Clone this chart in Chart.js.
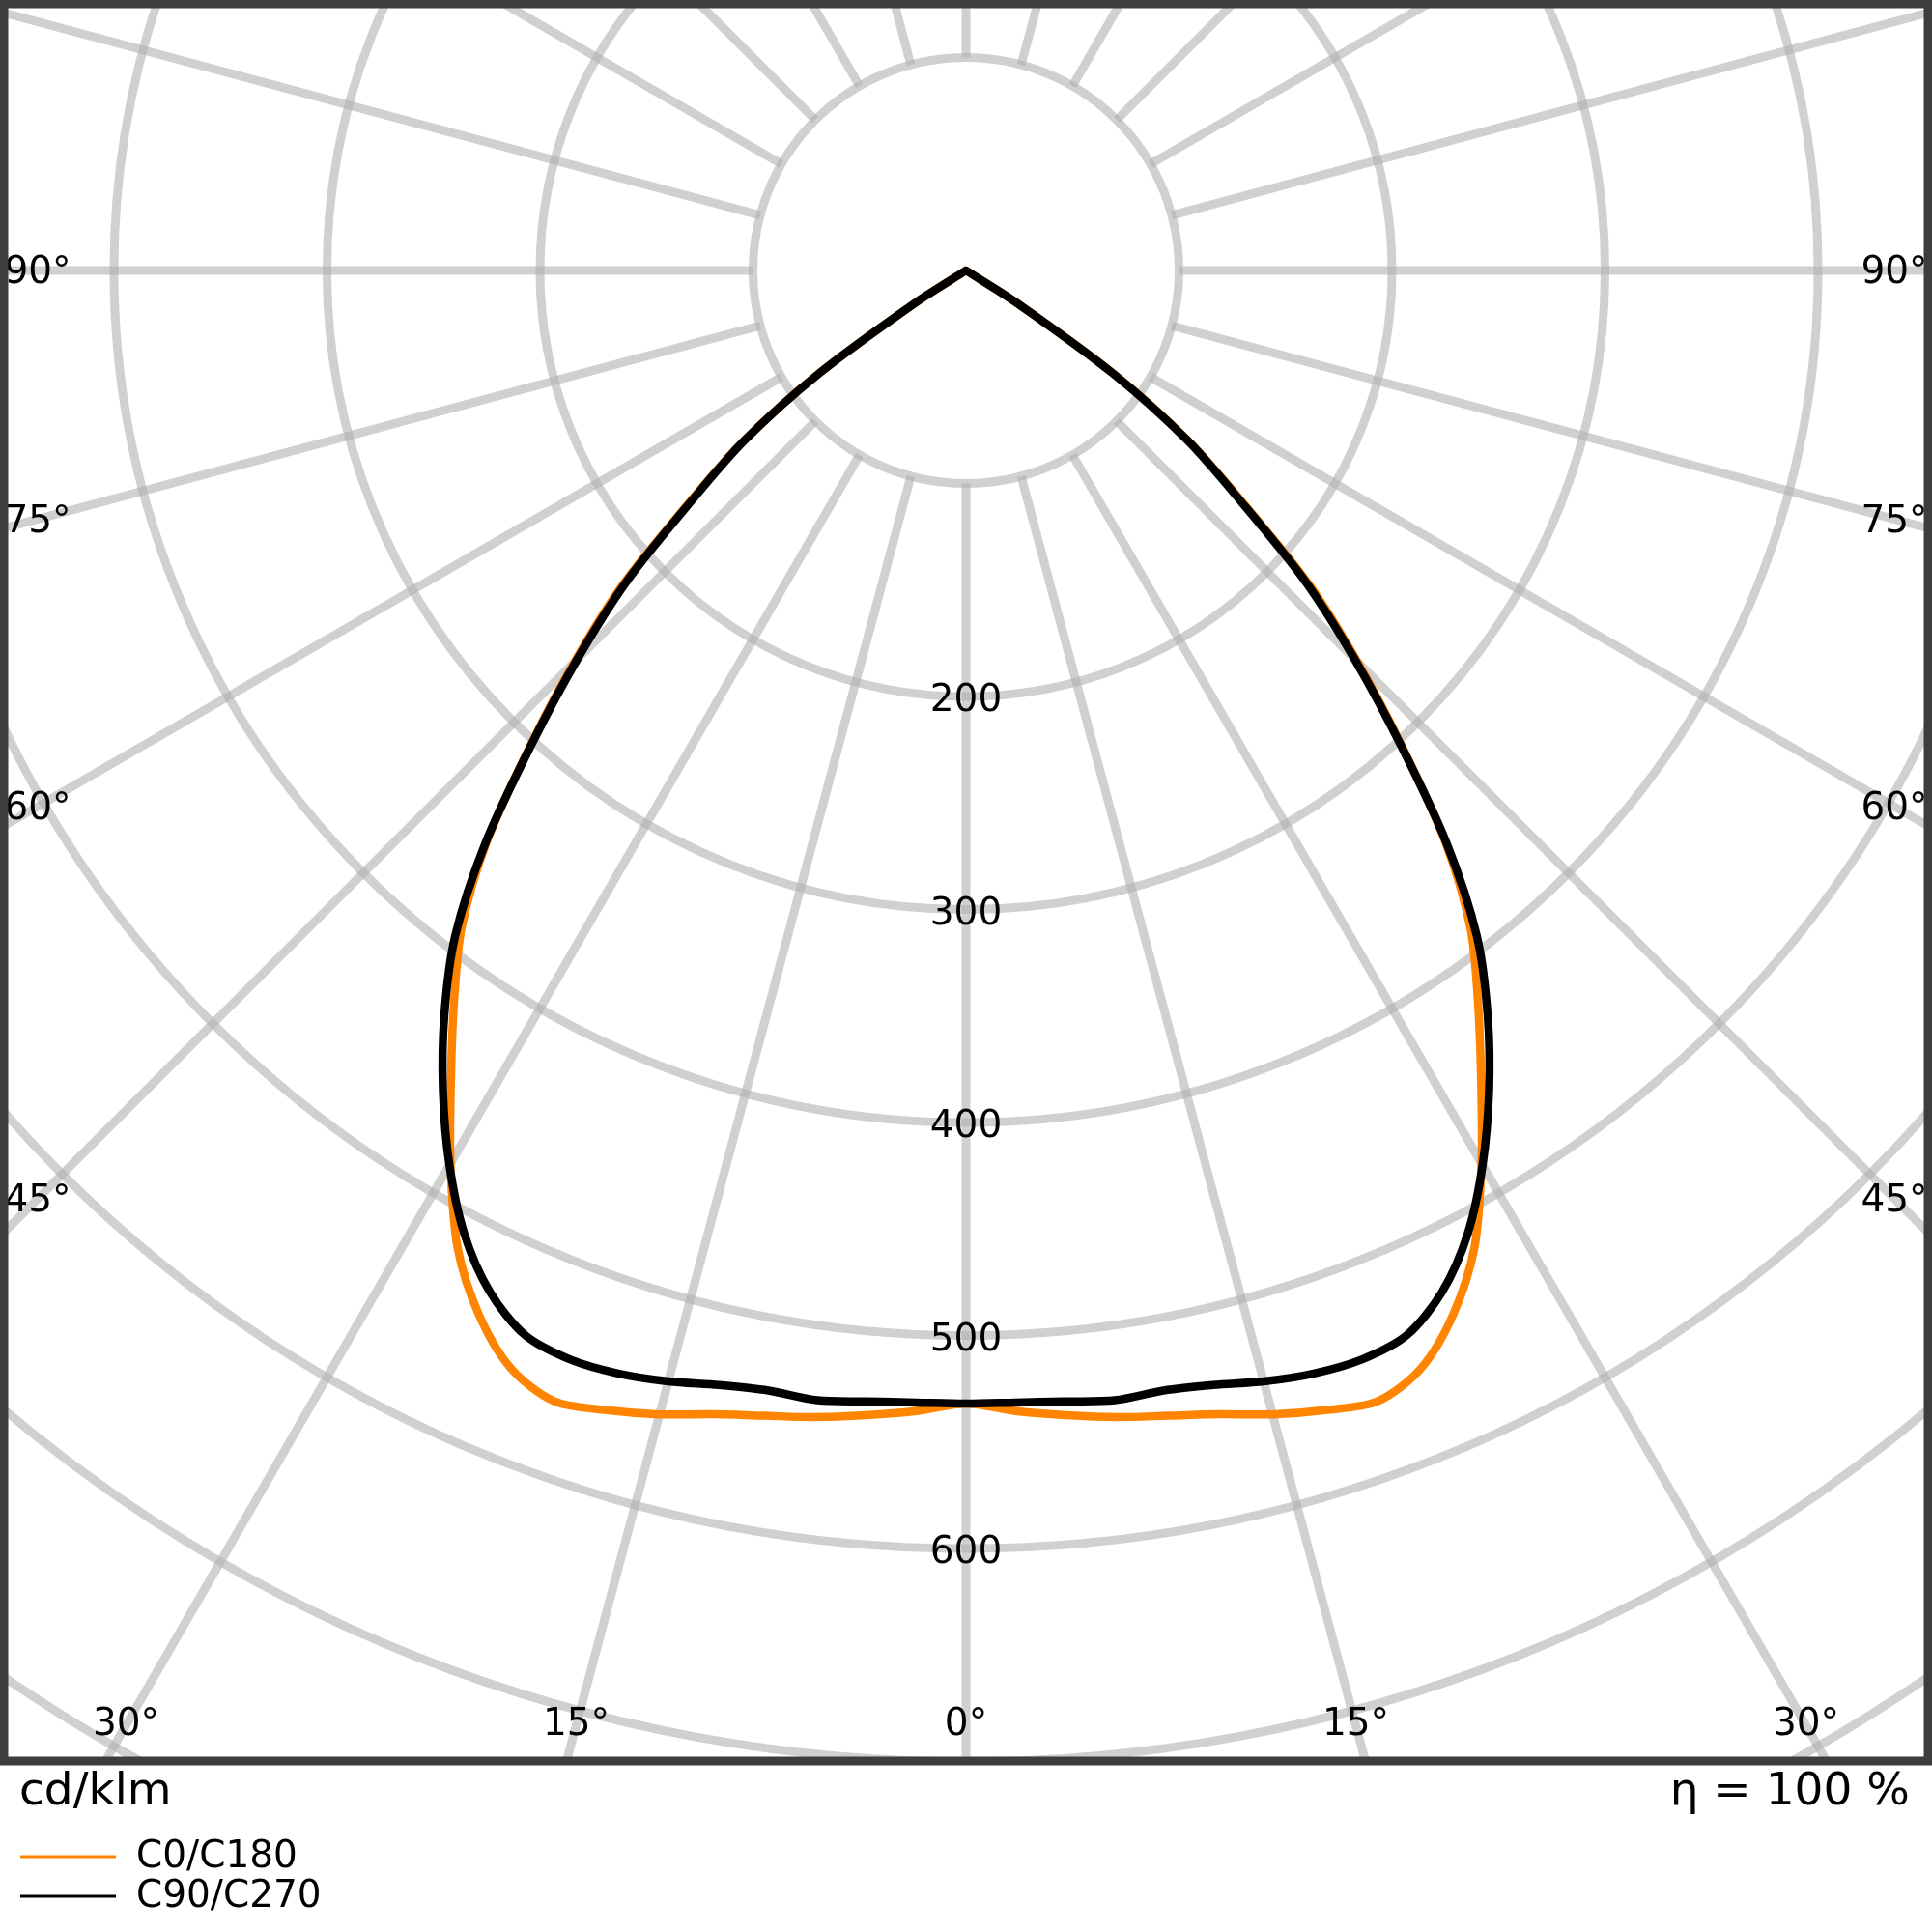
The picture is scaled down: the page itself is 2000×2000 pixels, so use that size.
<!DOCTYPE html>
<html>
<head>
<meta charset="utf-8">
<script src="https://cdn.jsdelivr.net/npm/chart.js@4.4.1/dist/chart.umd.min.js"></script>
<style>
  html, body { margin: 0; padding: 0; background: #fff; }
  canvas { display: block; }
</style>
</head>
<body>
<canvas id="ldc" width="2000" height="2000"></canvas>
<script>
// gamma angles (deg from nadir), same for both half planes
const angleDeg = [0, 2.5, 5, 7.5, 10, 12.5, 15, 17.5, 20, 22.5, 25, 27.5, 30, 32.5, 35, 37.5,
  40, 42.5, 45, 47.5, 50, 52.5, 55, 57.5, 60, 62.5, 65, 67.5, 70, 72.5, 75, 77.5, 80, 82.5, 85, 87.5, 90];

// cd/klm
const c0c180 = [532, 536, 539.5, 543, 546, 550, 556, 561, 565, 558, 541, 517, 484, 450, 419, 389,
  350, 303, 260, 219, 170, 132, 85, 28, 0, 0, 0, 0, 0, 0, 0, 0, 0, 0, 0, 0, 0];
const c90c270 = [532, 532, 533, 535, 534, 536, 540, 543, 544, 541, 529, 510, 485, 457, 427, 394,
  351, 302, 258, 216, 168, 131, 84, 28, 0, 0, 0, 0, 0, 0, 0, 0, 0, 0, 0, 0, 0];

const ringValues = [100, 200, 300, 400, 500, 600, 700, 800, 900];
const ringLabels = [200, 300, 400, 500, 600];
const angleTicks = [-90, -75, -60, -45, -30, -15, 0, 15, 30, 45, 60, 75, 90];
const spokeStep = 15;

const FONT = '"DejaVu Sans", sans-serif';
const GRID = 'rgba(176,176,176,0.6)';

// left half (C180 / C270) goes to negative angles, right half positive
function toPoints(values) {
  const pts = [];
  for (let i = angleDeg.length - 1; i > 0; i--) {
    const a = -angleDeg[i] * Math.PI / 180;
    pts.push({ x: values[i] * Math.sin(a), y: -values[i] * Math.cos(a) });
  }
  for (let i = 0; i < angleDeg.length; i++) {
    const a = angleDeg[i] * Math.PI / 180;
    pts.push({ x: values[i] * Math.sin(a), y: -values[i] * Math.cos(a) });
  }
  return pts;
}

const polarGrid = {
  id: 'polarGrid',
  beforeDatasetsDraw(chart) {
    const { ctx, chartArea: area, scales: { x, y } } = chart;
    const cx = x.getPixelForValue(0), cy = y.getPixelForValue(0);
    ctx.save();
    ctx.beginPath();
    ctx.rect(area.left, area.top, area.right - area.left, area.bottom - area.top);
    ctx.clip();
    ctx.strokeStyle = GRID;
    ctx.lineWidth = 9;
    ringValues.forEach(v => {
      ctx.beginPath();
      ctx.arc(cx, cy, x.getPixelForValue(v) - cx, 0, Math.PI * 2);
      ctx.stroke();
    });
    for (let a = 0; a < 360; a += spokeStep) {
      const s = Math.sin(a * Math.PI / 180), c = Math.cos(a * Math.PI / 180);
      ctx.beginPath();
      ctx.moveTo(x.getPixelForValue(100 * s), y.getPixelForValue(-100 * c));
      ctx.lineTo(x.getPixelForValue(1200 * s), y.getPixelForValue(-1200 * c));
      ctx.stroke();
    }
    ctx.fillStyle = '#000';
    ctx.font = '39px ' + FONT;
    ctx.textAlign = 'center';
    ctx.textBaseline = 'middle';
    ringLabels.forEach(v => {
      ctx.fillText(String(v), cx, y.getPixelForValue(-v) + 5);
    });
    ctx.restore();
  },
  afterDatasetsDraw(chart) {
    const { ctx, chartArea: area, scales: { x, y } } = chart;
    const cx = x.getPixelForValue(0), cy = y.getPixelForValue(0);
    ctx.save();
    ctx.beginPath();
    ctx.rect(area.left, area.top, area.right - area.left, area.bottom - area.top);
    ctx.clip();
    ctx.fillStyle = '#000';
    ctx.font = '39px ' + FONT;
    ctx.textAlign = 'center';
    ctx.textBaseline = 'middle';
    const xL = area.left + 39, xR = area.right - 39, yB = area.bottom - 37;
    angleTicks.forEach(t => {
      const s = Math.sin(t * Math.PI / 180), c = Math.cos(t * Math.PI / 180);
      let k = Infinity;
      if (Math.abs(s) > 1e-6) k = Math.min(k, ((s < 0 ? xL : xR) - cx) / s);
      if (c > 1e-6) k = Math.min(k, (yB - cy) / c);
      const side = Math.abs(s) > 1e-6 && k === ((s < 0 ? xL : xR) - cx) / s;
      ctx.fillText(Math.abs(t) + '°', cx + k * s, cy + k * c + (side ? 3 : 0));
    });
    ctx.restore();

    // frame
    ctx.save();
    ctx.strokeStyle = '#3d3d3d';
    ctx.lineWidth = 9;
    ctx.strokeRect(area.left + 4, area.top + 4, area.right - area.left - 8, area.bottom - area.top - 4);
    ctx.restore();
  },
  afterDraw(chart) {
    const { ctx, chartArea: area } = chart;
    ctx.save();
    ctx.fillStyle = '#000';
    ctx.font = '47px ' + FONT;
    ctx.textBaseline = 'middle';
    ctx.textAlign = 'left';
    ctx.fillText('cd/klm', 20, area.bottom + 33);
    ctx.textAlign = 'right';
    ctx.fillText('η = 100 %', 1977, area.bottom + 33);

    // legend
    ctx.font = '39px ' + FONT;
    ctx.textAlign = 'left';
    const items = [chart.data.datasets[0], chart.data.datasets[1]];
    items.forEach((ds, i) => {
      const ly = area.bottom + 99 + i * 41;
      ctx.strokeStyle = ds.borderColor;
      ctx.lineWidth = 3;
      ctx.beginPath();
      ctx.moveTo(21, ly);
      ctx.lineTo(120, ly);
      ctx.stroke();
      ctx.fillText(ds.label, 141, ly + 1);
    });
    ctx.restore();
  }
};

const lineStyle = {
  showLine: true,
  pointRadius: 0,
  borderWidth: 8.5,
  tension: 0.3,
  borderJoinStyle: 'round',
  borderCapStyle: 'round',
  fill: false
};

new Chart(document.getElementById('ldc'), {
  type: 'scatter',
  data: {
    datasets: [
      Object.assign({ label: 'C0/C180', data: toPoints(c0c180), borderColor: '#ff8400', order: 1 }, lineStyle),
      Object.assign({ label: 'C90/C270', data: toPoints(c90c270), borderColor: '#000000', order: 0 }, lineStyle)
    ]
  },
  options: {
    responsive: false,
    devicePixelRatio: 1,
    animation: false,
    events: [],
    layout: { padding: { left: 0, right: 0, top: 0, bottom: 177 } },
    scales: {
      x: { type: 'linear', min: -453.5, max: 453.5, display: false },
      y: { type: 'linear', min: -699.8, max: 127, display: false }
    },
    plugins: {
      legend: { display: false },
      tooltip: { enabled: false }
    }
  },
  plugins: [polarGrid]
});
</script>
</body>
</html>
